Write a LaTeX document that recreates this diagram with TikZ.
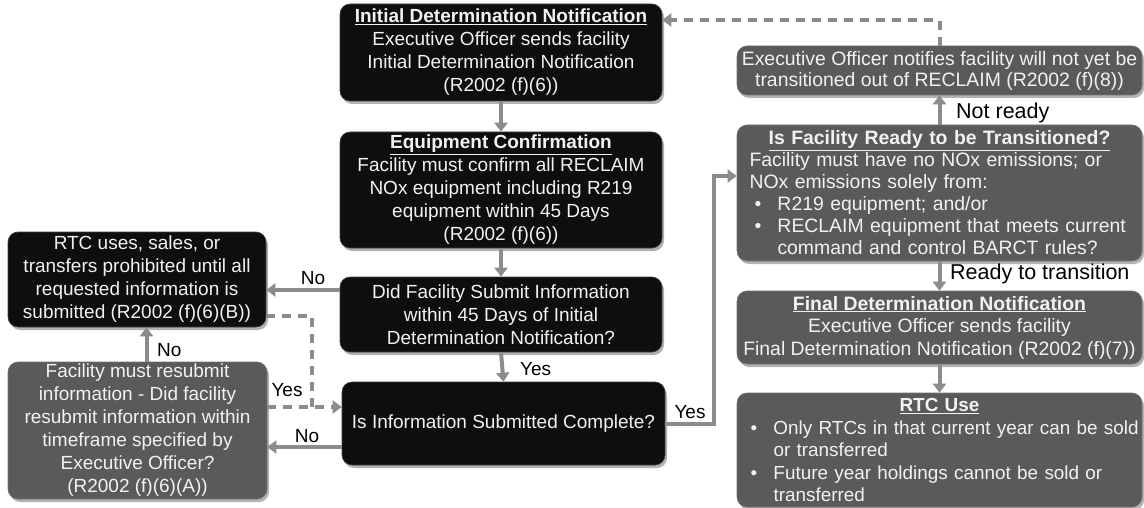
\documentclass[tikz,border=0pt]{standalone}
\usepackage{fontspec}
\setmainfont{Liberation Sans}
\usetikzlibrary{arrows.meta,shadows,calc}
\definecolor{boxblack}{HTML}{0E0E0E}
\definecolor{boxgray}{HTML}{5A5A5A}
\definecolor{arrgray}{HTML}{8C8C8C}
\definecolor{txtw}{HTML}{F2F2F2}
\newcommand\myblt{\hspace*{5pt}\makebox[23pt][l]{\textbullet}}
\begin{document}
\begin{tikzpicture}[x=1pt,y=-1pt,
  base/.style={rounded corners=10pt, text=txtw, font=\fontsize{19}{23}\selectfont,
    inner sep=0pt, align=center,
    drop shadow={shadow xshift=2pt, shadow yshift=-3pt, opacity=0.3, fill=black}},
  blackbox/.style={base, fill=boxblack, draw=black!75, line width=0.6pt},
  graybox/.style={base, fill=boxgray, draw=black!55, line width=0.6pt,
    font=\fontsize{19.4}{23}\selectfont},
  arr/.style={draw=arrgray, line width=4pt, -{Triangle[width=13pt,length=9pt]}},
  darr/.style={arr, dash pattern=on 9pt off 7pt},
  dline/.style={draw=arrgray, line width=4pt, dash pattern=on 9pt off 7pt},
  lbl/.style={font=\fontsize{19}{23}\selectfont, text=black, inner sep=1pt},
  biglbl/.style={lbl, font=\fontsize{21.5}{24}\selectfont}
]
\fill[white] (0,0) rectangle (1144,508);
\useasboundingbox (0,0) rectangle (1144,508);

\node[blackbox, minimum width=322pt, minimum height=97pt] (init) at (501,52.5)
  {\underline{\textbf{Initial Determination Notification}}\\Executive Officer sends facility\\Initial Determination Notification\\(R2002 (f)(6))};
\node[blackbox, minimum width=322pt, minimum height=116pt] (equip) at (501,190)
  {\underline{\textbf{Equipment Confirmation}}\\Facility must confirm all RECLAIM\\NOx equipment including R219\\equipment within 45 Days\\(R2002 (f)(6))};
\node[blackbox, minimum width=322pt, minimum height=75pt] (did) at (501,314.5)
  {Did Facility Submit Information\\within 45 Days of Initial\\Determination Notification?};
\node[blackbox, minimum width=323pt, minimum height=83pt] (info) at (503.5,423.5)
  {Is Information Submitted Complete?};
\node[blackbox, minimum width=258pt, minimum height=95pt] (rtcu) at (137,279.5)
  {RTC uses, sales, or\\transfers prohibited until all\\requested information is\\submitted (R2002 (f)(6)(B))};
\node[graybox, minimum width=259pt, minimum height=137pt, font=\fontsize{19}{23}\selectfont] (resub) at (137.5,430.5)
  {Facility must resubmit\\information - Did facility\\resubmit information within\\timeframe specified by\\Executive Officer?\\(R2002 (f)(6)(A))};
\node[graybox, minimum width=405pt, minimum height=49pt, font=\fontsize{19.4}{21}\selectfont] (notify) at (939.5,70.5)
  {Executive Officer notifies facility will not yet be\\transitioned out of RECLAIM (R2002 (f)(8))};
\node[graybox, minimum width=405pt, minimum height=136pt, text width=380pt, align=left,
      font=\fontsize{19.4}{22}\selectfont] (ready) at (939.5,193)
  {\makebox[\linewidth]{\underline{\textbf{Is Facility Ready to be Transitioned?}}}\\
   \mbox{Facility must have no NOx emissions; or}\\
   \mbox{NOx emissions solely from:}\\
   \mbox{\myblt R219 equipment; and/or}\\
   \mbox{\myblt RECLAIM equipment that meets current}\\
   \mbox{\hspace*{28pt}command and control BARCT rules?}};
\node[graybox, minimum width=405pt, minimum height=73pt, font=\fontsize{19.4}{22.5}\selectfont] (final) at (939.5,327.5)
  {\underline{\textbf{Final Determination Notification}}\\Executive Officer sends facility\\Final Determination Notification (R2002 (f)(7))};
\node[graybox, minimum width=405pt, minimum height=114pt, text width=398pt, align=left,
      font=\fontsize{18.9}{22.5}\selectfont] (use) at (939.5,450)
  {\makebox[\linewidth]{\underline{\textbf{RTC Use}}}\\
   \mbox{\hspace*{5pt}\myblt Only RTCs in that current year can be sold}\\
   \mbox{\hspace*{33pt}or transferred}\\
   \mbox{\hspace*{5pt}\myblt Future year holdings cannot be sold or}\\
   \mbox{\hspace*{33pt}transferred}};

% main vertical chain
\draw[arr] (init.south) -- (equip.north);
\draw[arr] (equip.south) -- (did.north);
\draw[arr] (did.south) -- (info.north);
\node[lbl, anchor=west] (lyes1) at (519,369) {Yes};

% did -> rtcu (No)
\coordinate (p1) at ([yshift=24.5pt]did.west);
\draw[arr] (p1) -- (p1 -| rtcu.east);
\node[lbl] (lno1) at (313,278) {No};

% info -> resub (No)
\coordinate (p2) at ([yshift=-23.5pt]info.west);
\draw[arr] (p2) -- (p2 -| resub.east);
\node[lbl] (lno2) at (307,436) {No};

% resub -> rtcu (No)
\coordinate (p3) at ([xshift=9pt]resub.north);
\draw[arr] (p3) -- (p3 |- rtcu.south);
\node[lbl, anchor=west] (lno3) at (156,350) {No};

% dashed connectors into info
\coordinate (p4) at ([yshift=-36.5pt]rtcu.east);
\coordinate (p5) at ([yshift=16.5pt]info.west);
\coordinate (p6) at ([yshift=23.5pt]resub.east);
\draw[dline] (p4) -- (312,316) -- (312,407);
\draw[darr] (p6) -- (p5);
\node[lbl] (lyes2) at (287,390) {Yes};

% info -> ready (Yes)
\coordinate (p7) at ([yshift=-0.5pt]info.east);
\coordinate (p8) at ([yshift=17pt]ready.west);
\draw[arr] (p7) -- (714,424) -- (714,176) -- (p8);
\node[lbl] (lyes3) at (690,412) {Yes};

% ready -> notify (Not ready)
\draw[arr] (ready.north) -- (notify.south);
\node[biglbl, anchor=west] (lnr) at (955,113) {Not ready};

% notify -> init dashed
\coordinate (p9) at ([yshift=32.5pt]init.east);
\draw[darr] (notify.north) -- (939.5,20) -- (p9);

% ready -> final
\draw[arr] (ready.south) -- (final.north);
\node[biglbl, anchor=west] (lrt) at (949,274) {Ready to transition};

% final -> use
\draw[arr] (final.south) -- (use.north);
\end{tikzpicture}
\end{document}
